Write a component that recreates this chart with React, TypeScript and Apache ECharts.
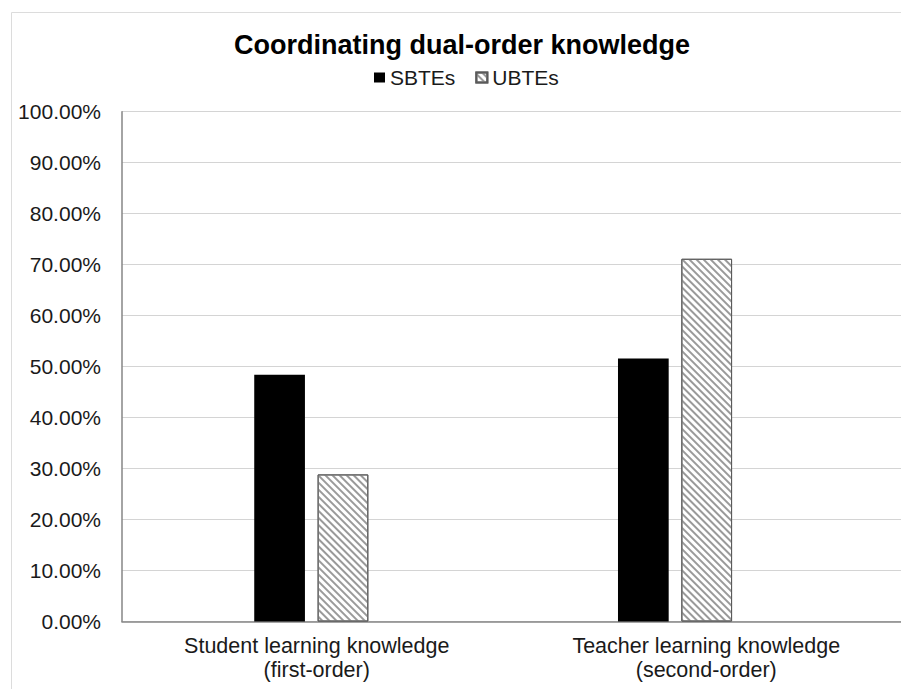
import React, { useEffect, useRef } from "react";
import * as echarts from "echarts";

// Chart data
const categories = [
  "Student learning knowledge\n(first-order)",
  "Teacher learning knowledge\n(second-order)",
];
const seriesNames = ["SBTEs", "UBTEs"];
const sbtes = [48.39, 51.61];
const ubtes = [28.85, 71.15];
const yMin = 0;
const yMax = 100;
const yStep = 10;

const FONT = "'Liberation Sans', Arial, Helvetica, sans-serif";
const TEXT = "#1a1a1a";

export default function App() {
  const ref = useRef<HTMLDivElement>(null);

  useEffect(() => {
    if (!ref.current) return;
    const chart = echarts.init(ref.current, null, { renderer: "svg" });

    const plotTop = 111.7;
    const plotBottom = 67.5;

    chart.setOption({
      animation: false,
      backgroundColor: "#fff",
      textStyle: { fontFamily: FONT },
      title: {
        text: "Coordinating dual-order knowledge",
        left: 234,
        top: 31,
        padding: 0,
        textStyle: { fontSize: 27, fontWeight: "bold", color: "#000", fontFamily: FONT },
      },
      legend: {
        data: seriesNames,
        left: 374,
        top: 67,
        padding: 0,
        itemWidth: 11,
        itemHeight: 10,
        itemGap: 20,
        icon: "rect",
        textStyle: { fontSize: 21, color: TEXT, fontFamily: FONT },
      },
      graphic: [
        {
          type: "rect",
          left: 9,
          top: 10,
          shape: { width: 900, height: 700 },
          style: { fill: "none", stroke: "#dcdcdc", lineWidth: 1 },
          silent: true,
        },
      ],
      grid: [
        // frame grid: axes, gridlines and labels
        { left: 122, right: 0, top: plotTop, bottom: plotBottom, containLabel: false },
        // bar grid
        { left: 129.4, right: 44.1, top: plotTop, bottom: plotBottom, containLabel: false },
      ],
      xAxis: [
        {
          type: "category",
          gridIndex: 0,
          data: categories,
          axisTick: { show: false },
          axisLine: { show: true, lineStyle: { color: "#868686", width: 1.5 } },
          axisLabel: {
            fontSize: 21.5,
            lineHeight: 24,
            margin: 12,
            color: TEXT,
            fontFamily: FONT,
            interval: 0,
          },
          splitLine: { show: false },
        },
        {
          type: "category",
          gridIndex: 1,
          data: categories,
          show: false,
        },
      ],
      yAxis: [
        {
          type: "value",
          gridIndex: 0,
          min: yMin,
          max: yMax,
          interval: yStep,
          axisLine: { show: true, lineStyle: { color: "#868686", width: 1.5 } },
          axisTick: { show: false },
          axisLabel: {
            fontSize: 21,
            margin: 21,
            color: TEXT,
            fontFamily: FONT,
            formatter: (v: number) => `${v.toFixed(2)}%`,
          },
          splitLine: { show: true, lineStyle: { color: "#d4d4d4", width: 1.2 } },
        },
        {
          type: "value",
          gridIndex: 1,
          min: yMin,
          max: yMax,
          interval: yStep,
          show: false,
          splitLine: { show: false },
        },
      ],
      series: [
        {
          name: seriesNames[0],
          type: "bar",
          xAxisIndex: 1,
          yAxisIndex: 1,
          data: sbtes,
          barWidth: 50.7,
          barGap: "25%",
          itemStyle: { color: "#000" },
        },
        {
          name: seriesNames[1],
          type: "bar",
          xAxisIndex: 1,
          yAxisIndex: 1,
          data: ubtes,
          barWidth: 50.7,
          barGap: "25%",
          itemStyle: {
            color: "#fff",
            borderColor: "#5a5a5a",
            borderWidth: 1,
            decal: {
              symbol: "rect",
              symbolSize: 1,
              color: "#9a9a9a",
              backgroundColor: "transparent",
              dashArrayX: [1, 0],
              dashArrayY: [2, 3],
              rotation: Math.PI / 4,
            },
          },
        },
      ],
    });

    return () => chart.dispose();
  }, []);

  return (
    <div
      ref={ref}
      style={{ position: "absolute", left: 0, top: 0, width: 901, height: 689 }}
    />
  );
}
